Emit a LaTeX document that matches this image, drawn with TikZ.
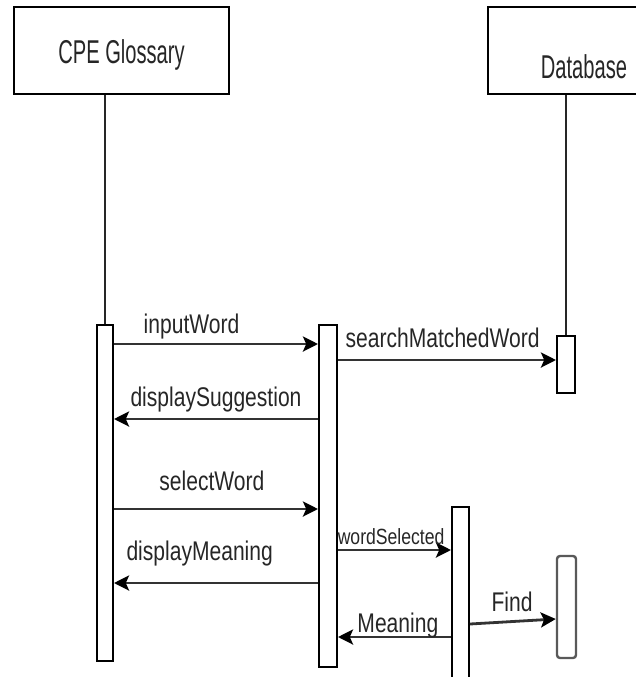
\documentclass[tikz,border=0pt]{standalone}
\usepackage{fontspec}
\setmainfont{Liberation Sans}
\newfontfamily\headfont{Liberation Sans}[FakeStretch=0.61]
\newfontfamily\msgfont{Liberation Sans}[FakeStretch=0.78]
\newfontfamily\smallmsgfont{Liberation Sans}[FakeStretch=0.8]
\usetikzlibrary{arrows.meta}

\begin{document}
\begin{tikzpicture}[x=0.5pt, y=-0.5pt, >={Stealth[length=7.5pt, width=7.5pt, inset=1.6pt, black]},
    head/.style={draw, line width=1.1pt, inner sep=0pt, anchor=base, text=black!85, font=\headfont\fontsize{16.5}{18}\selectfont},
    act/.style={draw, line width=1pt, fill=white, inner sep=0pt},
    life/.style={line width=0.8pt, black!85},
    msg/.style={->, line width=1.4pt, black!80},
    lbl/.style={anchor=base, inner sep=0pt, text=black!85, font=\msgfont\fontsize{13.5}{15}\selectfont},
    smalllbl/.style={lbl, font=\smallmsgfont\fontsize{11}{12}\selectfont}]
        \useasboundingbox (0,0) rectangle (636,677);

        % objects
        \node[head, minimum width=107.5pt, text height=28pt, text depth=15.5pt] (cpe) at (121.5,63) {CPE Glossary};
        \node[head, inner xsep=26.5pt, text height=35.5pt, text depth=8pt] (db) at (584,78) {Database};

        % activations
        \node[act, minimum width=8pt, minimum height=168pt] (cpeact) at (105,493) {};
        \node[act, minimum width=9pt, minimum height=171pt] (ctrlact) at (328,496) {};
        \node[act, minimum width=9pt, minimum height=28.5pt] (dbact) at (566,364.5) {};
        \node[act, minimum width=8.5pt, minimum height=91.5pt] (selact) at (460.5,598.5) {};
        \node[act, draw=black!65, line width=1.2pt, rounded corners=1.5pt, minimum width=9.5pt, minimum height=51pt] (findact) at (566.5,607) {};

        % lifelines
        \draw[life] (cpeact.north |- cpe.south) -- (cpeact);
        \draw[life] (dbact.north |- db.south) -- (dbact);

        % messages
        \draw[msg] (cpeact.east |- 0,344) -- node[lbl, pos=0.38, yshift=5.5pt] {inputWord} (ctrlact.west |- 0,344);
        \draw[msg] (ctrlact.east |- 0,360) -- node[lbl, pos=0.48, yshift=6.5pt] {searchMatchedWord} (dbact.west |- 0,360);
        \draw[msg] (ctrlact.west |- 0,419) -- node[lbl, pos=0.5, yshift=6.5pt] {displaySuggestion} (cpeact.east |- 0,419);
        \draw[msg] (cpeact.east |- 0,509) -- node[lbl, pos=0.48, yshift=9.5pt] {selectWord} (ctrlact.west |- 0,509);
        \draw[msg] (ctrlact.east |- 0,550) -- node[smalllbl, pos=0.47, yshift=3pt] {wordSelected} (selact.west |- 0,550);
        \draw[msg] (ctrlact.west |- 0,583) -- node[lbl, pos=0.58, yshift=11.5pt] {displayMeaning} (cpeact.east |- 0,583);
        \draw[msg] (selact.east |- 0,624) -- node[lbl, pos=0.49, yshift=5pt] {Find} (findact.west |- 0,619);
        \draw[msg] (selact.west |- 0,637) -- node[lbl, pos=0.47, yshift=2.5pt] {Meaning} (ctrlact.east |- 0,637);
      \end{tikzpicture}
\end{document}
